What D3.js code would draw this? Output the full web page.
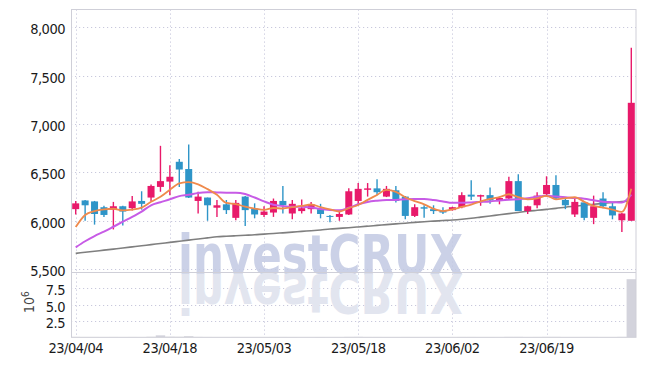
<!DOCTYPE html>
<html>
<head>
<meta charset="utf-8">
<script src="https://cdn.jsdelivr.net/npm/d3@7"></script>
<style>
  body { margin: 0; background: #fff; }
  svg text { font-family: "Liberation Sans Narrow", "Arial Narrow", "DejaVu Sans Condensed", sans-serif; }
</style>
</head>
<body>
<div id="chart"></div>
<script>
/* DATA */
const dates = [
  "23/04/04","23/04/05","23/04/06","23/04/07","23/04/10","23/04/11","23/04/12","23/04/13","23/04/14","23/04/17",
  "23/04/18","23/04/19","23/04/20","23/04/21","23/04/24","23/04/25","23/04/26","23/04/27","23/04/28","23/05/02",
  "23/05/03","23/05/04","23/05/08","23/05/09","23/05/10","23/05/11","23/05/12","23/05/15","23/05/16","23/05/17",
  "23/05/18","23/05/19","23/05/22","23/05/23","23/05/24","23/05/25","23/05/26","23/05/30","23/05/31","23/06/01",
  "23/06/02","23/06/05","23/06/07","23/06/08","23/06/09","23/06/12","23/06/13","23/06/14","23/06/15","23/06/16",
  "23/06/19","23/06/20","23/06/21","23/06/22","23/06/23","23/06/26","23/06/27","23/06/28","23/06/29","23/06/30"
];
const open = [6120,6210,6200,6140,6115,6150,6130,6205,6240,6350, 6405,6610,6535,6205,6240,6135,6170,6030,6250,6125,
  6060,6085,6205,6075,6100,6120,6120,6050,6040,6065, 6205,6320,6335,6250,6315,6250,6050,6140,6120,6105,
  6110,6140,6270,6250,6265,6205,6230,6410,6100,6160, 6275,6370,6215,6065,6190,6030,6230,6150,6005,6000];
const high = [6204,6215,6205,6155,6195,6155,6255,6305,6375,6775, 6575,6640,6790,6300,6240,6215,6215,6215,6255,6180,
  6150,6230,6360,6215,6220,6195,6175,6060,6095,6335, 6390,6390,6430,6360,6360,6255,6170,6160,6160,6140,
  6145,6295,6420,6270,6345,6250,6455,6480,6155,6295, 6460,6470,6230,6230,6190,6260,6295,6190,6080,7790];
const low = [6066,6000,5960,6040,5910,5950,6105,6115,6205,6300, 6265,6350,6235,6075,6000,6040,6070,6005,5945,6025,
  6040,6040,6075,6015,6075,6075,6025,5985,6000,6060, 6160,6250,6265,6245,6190,6015,6040,6030,6070,6070,
  6105,6130,6215,6155,6175,6170,6215,6100,6070,6130, 6250,6215,6120,6040,6005,5965,6130,6015,5885,6000];
const close = [6180,6160,6070,6060,6150,6095,6200,6175,6360,6410, 6455,6530,6240,6250,6160,6160,6110,6185,6110,6065,
  6095,6205,6160,6175,6130,6170,6070,6040,6070,6305, 6330,6335,6295,6330,6205,6050,6140,6125,6100,6085,
  6140,6265,6250,6265,6210,6235,6410,6100,6150,6260, 6370,6230,6160,6195,6030,6150,6150,6055,6075,7220];

// moving average lines
const maShort = [5935,6060,6100,6118,6124,6107,6115,6136,6196,6248, 6320,6386,6399,6377,6327,6268,6184,6173,6145,6126,
  6113,6132,6127,6140,6153,6168,6141,6117,6096,6131, 6163,6216,6267,6319,6299,6243,6204,6170,6124,6100,
  6118,6143,6168,6201,6226,6245,6274,6244,6221,6231, 6258,6222,6234,6243,6197,6153,6137,6116,6092,6330];
const maMid = [5725,5788,5842,5887,5938,5990,6040,6095,6160,6192, 6222,6255,6268,6288,6295,6293,6290,6290,6276,6240,
  6200,6165,6152,6145,6145,6138,6122,6112,6108,6134, 6170,6195,6207,6214,6215,6222,6225,6225,6215,6200,
  6185,6185,6190,6195,6200,6210,6218,6222,6232,6248, 6258,6250,6242,6236,6228,6212,6197,6192,6188,6270];
const maLong = [5663,5674,5685,5696,5707,5718,5730,5742,5753,5765, 5776,5788,5800,5811,5823,5835,5840,5845,5850,5855,
  5862,5868,5875,5882,5890,5897,5905,5914,5921,5928, 5936,5944,5952,5960,5968,5975,5983,5990,5996,6002,
  6008,6016,6026,6038,6050,6062,6074,6086,6098,6108, 6118,6128,6140,6150,6160,6170,6180,6190,6198,6205];

// volume, millions of shares
const volume = [0.06,0.05,0.05,0.04,0.05,0.04,0.05,0.04,0.08,0.30, 0.10,0.08,0.17,0.06,0.05,0.04,0.04,0.05,0.04,0.04,
  0.04,0.05,0.05,0.04,0.03,0.03,0.04,0.03,0.03,0.06, 0.07,0.05,0.05,0.04,0.04,0.05,0.04,0.03,0.03,0.03,
  0.03,0.05,0.05,0.04,0.04,0.03,0.06,0.06,0.04,0.05, 0.06,0.06,0.04,0.04,0.05,0.05,0.04,0.04,0.06,8.9];

const priceTicks = [5500, 6000, 6500, 7000, 7500, 8000];
const volTicks = [2.5, 5.0, 7.5];
const xTickIdx = [0, 10, 20, 30, 40, 50];

/* LAYOUT */
const width = 645, height = 366;
const plotLeft = 71, plotRight = 636, plotTop = 9.5, split = 272, plotBottom = 337.3;
const upColor = "#e8196a", downColor = "#2e95c8";
const labelFont = 14.5, labelSpacing = -0.5;

const svg = d3.select("#chart").append("svg")
  .attr("width", width)
  .attr("height", height);

const idx = d3.range(dates.length);

const x = d3.scaleBand()
  .domain(idx)
  .range([plotLeft, plotRight])
  .padding(0);

const y = d3.scaleLinear()
  .domain([5470, 8185])
  .range([split, plotTop]);

const yVol = d3.scaleLinear()
  .domain([0, 10])
  .range([plotBottom, split]);

const cx = i => x(i) + x.bandwidth() / 2;

// grid
const grid = svg.append("g")
  .attr("stroke", "#c8c8dc")
  .attr("stroke-width", 1)
  .attr("stroke-dasharray", "1.2,2.8");

grid.selectAll(".hp").data(priceTicks).join("line")
  .attr("x1", plotLeft).attr("x2", plotRight)
  .attr("y1", d => Math.round(y(d)) + 0.5).attr("y2", d => Math.round(y(d)) + 0.5);

grid.selectAll(".hv").data(volTicks).join("line")
  .attr("x1", plotLeft).attr("x2", plotRight)
  .attr("y1", d => Math.round(yVol(d)) + 0.5).attr("y2", d => Math.round(yVol(d)) + 0.5);

grid.selectAll(".vx").data(xTickIdx).join("line")
  .attr("x1", d => Math.round(cx(d)) + 0.5).attr("x2", d => Math.round(cx(d)) + 0.5)
  .attr("y1", plotTop).attr("y2", plotBottom);

// watermark + its reflection
const wm = svg.append("g").attr("font-weight", "bold");
wm.append("text")
  .attr("x", 178).attr("y", 274)
  .attr("textLength", 285).attr("lengthAdjust", "spacingAndGlyphs")
  .attr("font-size", 56)
  .attr("fill", "#c3cae3")
  .attr("opacity", 0.85)
  .text("investCRUX");
wm.append("text")
  .attr("x", 178).attr("y", 274)
  .attr("transform", "translate(0,548) scale(1,-1)")
  .attr("textLength", 285).attr("lengthAdjust", "spacingAndGlyphs")
  .attr("font-size", 56)
  .attr("fill", "#e2e5ef")
  .text("investCRUX");

// volume bars
svg.append("g").selectAll("rect").data(idx).join("rect")
  .attr("x", i => x(i))
  .attr("width", x.bandwidth())
  .attr("y", i => yVol(volume[i]))
  .attr("height", i => plotBottom - yVol(volume[i]))
  .attr("fill", "#d3d3dc");

// moving averages
const line = arr => d3.line().x(i => cx(i)).y(i => y(arr[i])).curve(d3.curveMonotoneX)(idx);

svg.append("path").attr("d", line(maLong))
  .attr("fill", "none").attr("stroke", "#7f7f7f").attr("stroke-width", 1.6);

// candles
const candle = svg.append("g").selectAll("g").data(idx).join("g");
const col = i => close[i] >= open[i] ? upColor : downColor;
const bw = 7;

candle.append("line")
  .attr("x1", i => cx(i)).attr("x2", i => cx(i))
  .attr("y1", i => y(high[i])).attr("y2", i => y(low[i]))
  .attr("stroke", col).attr("stroke-width", 1.4);

candle.append("rect")
  .attr("x", i => cx(i) - bw / 2)
  .attr("width", bw)
  .attr("y", i => y(Math.max(open[i], close[i])))
  .attr("height", i => Math.max(1, Math.abs(y(open[i]) - y(close[i]))))
  .attr("fill", col);

svg.append("path").attr("d", line(maMid))
  .attr("fill", "none").attr("stroke", "#c75be6").attr("stroke-width", 2);
svg.append("path").attr("d", line(maShort))
  .attr("fill", "none").attr("stroke", "#ef8a4c").attr("stroke-width", 1.8);

// frame
const frame = svg.append("g").attr("stroke", "#cfcfd8").attr("stroke-width", 1).attr("fill", "none");
frame.append("rect").attr("x", plotLeft + 0.5).attr("y", plotTop).attr("width", plotRight - plotLeft - 0.5).attr("height", plotBottom - plotTop);
frame.append("line").attr("x1", plotLeft).attr("x2", plotRight).attr("y1", split + 0.5).attr("y2", split + 0.5);

// axes
const styleTicks = sel => sel.selectAll("text")
  .attr("font-size", labelFont)
  .attr("letter-spacing", labelSpacing)
  .attr("fill", "#1a1a1a");

const yAxis = d3.axisLeft(y).tickValues(priceTicks).tickSize(0).tickPadding(6).tickFormat(d3.format(","));
svg.append("g").attr("transform", `translate(${plotLeft},0)`).call(yAxis)
  .call(g => g.select(".domain").remove())
  .call(styleTicks)
  .selectAll("text").attr("dy", "0.45em");

const vAxis = d3.axisLeft(yVol).tickValues(volTicks).tickSize(0).tickPadding(6).tickFormat(d3.format(".1f"));
svg.append("g").attr("transform", `translate(${plotLeft},0)`).call(vAxis)
  .call(g => g.select(".domain").remove())
  .call(styleTicks)
  .selectAll("text").attr("dy", "0.45em");

const xAxis = d3.axisBottom(x).tickValues(xTickIdx).tickSize(0).tickPadding(5).tickFormat(i => dates[i]);
svg.append("g").attr("transform", `translate(0,${plotBottom})`).call(xAxis)
  .call(g => g.select(".domain").remove())
  .call(styleTicks);

// volume unit label
const unit = svg.append("text")
  .attr("transform", "translate(34,313) rotate(-90)")
  .attr("font-size", 14).attr("fill", "#444");
unit.append("tspan").text("10");
unit.append("tspan").attr("dy", -5).attr("font-size", 10).text("6");
</script>
</body>
</html>
